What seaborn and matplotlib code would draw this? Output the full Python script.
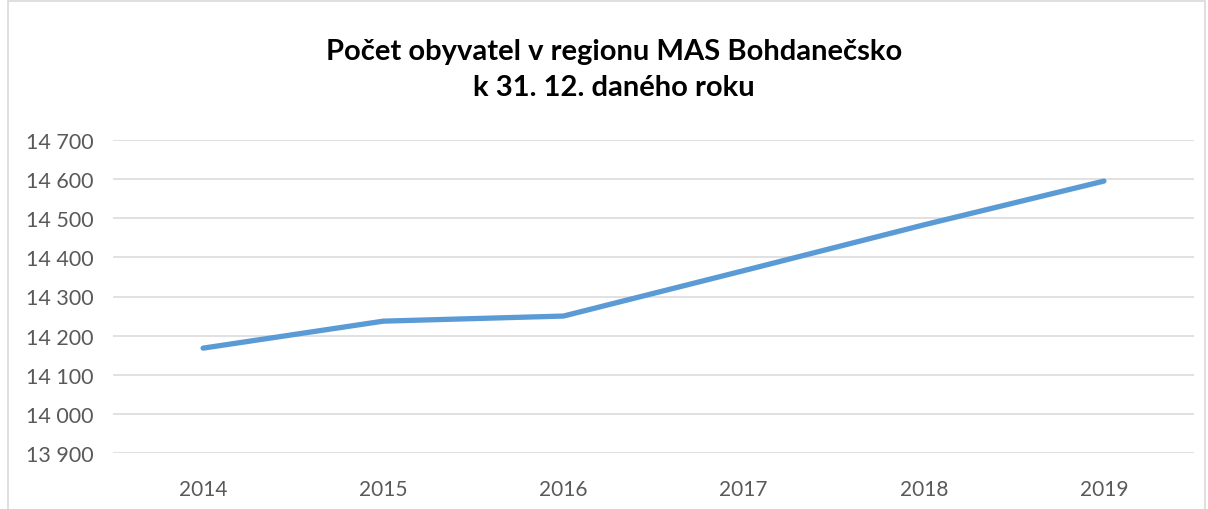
import pandas as pd
import seaborn as sns
import matplotlib.pyplot as plt
from matplotlib.patches import Rectangle
from matplotlib.ticker import FuncFormatter, MultipleLocator

years = ['2014', '2015', '2016', '2017', '2018', '2019']
population = [14168, 14237, 14250, 14366, 14483, 14595]

sns.set_style('white')
plt.rcParams['font.family'] = ['Lato', 'DejaVu Sans']

df = pd.DataFrame({'rok': years, 'obyvatel': population})

fig = plt.figure(figsize=(12.08, 5.10), dpi=100)
ax = fig.add_axes([113 / 1208, 1 - 454 / 510, (1194 - 113) / 1208, (454 - 141) / 510])

sns.lineplot(data=df, x='rok', y='obyvatel', ax=ax, color='#5B9BD5',
             linewidth=3.8, solid_capstyle='round', solid_joinstyle='round')

ax.set_xlim(-0.5, len(years) - 0.5)
ax.set_ylim(13900, 14700)
ax.yaxis.set_major_locator(MultipleLocator(100))
ax.yaxis.set_major_formatter(FuncFormatter(lambda v, p: f'{int(v):,}'.replace(',', ' ')))
ax.grid(axis='y', color='#D9D9D9', linewidth=1.1)
ax.set_axisbelow(True)
for s in ax.spines.values():
    s.set_visible(False)
ax.tick_params(axis='y', length=0, pad=14, labelsize=15.5, labelcolor='#595959')
ax.tick_params(axis='x', length=0, pad=19, labelsize=15, labelcolor='#595959')
ax.set_xlabel('')
ax.set_ylabel('')

fig.text(614 / 1208, 1 - 70 / 510, 'Počet obyvatel v regionu MAS Bohdanečsko\nk 31. 12. daného roku',
         ha='center', va='center', fontsize=21, fontweight='bold', color='black', linespacing=1.45)

# chart frame
fig.patches.append(Rectangle((8 / 1208, -0.01), (1205 - 8) / 1208, 1 - 2 / 510 + 0.01,
                             transform=fig.transFigure, fill=False, edgecolor='#D9D9D9', linewidth=1.2))

fig.savefig('out.png', dpi=100)
